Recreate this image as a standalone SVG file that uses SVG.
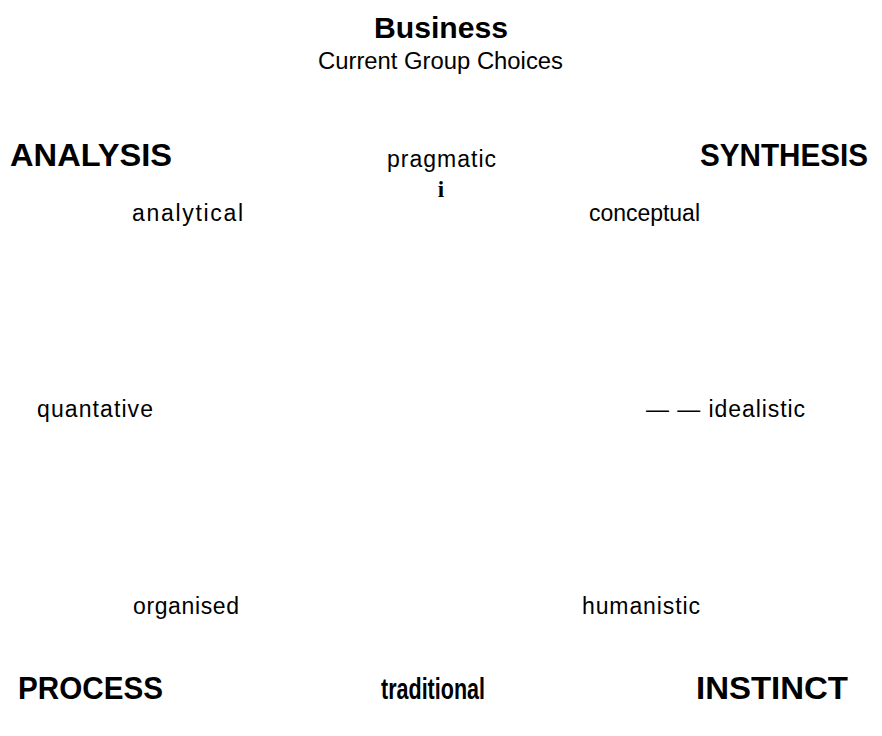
<svg xmlns="http://www.w3.org/2000/svg" width="882" height="736" viewBox="0 0 882 736">
<style>
text{font-family:"Liberation Sans",Arial,sans-serif;fill:#000}
.t{font-size:30px;font-weight:bold}
.h{font-size:31px;font-weight:bold}
.l{font-size:23px}
</style>
<rect width="882" height="736" fill="#fff"/>
<g id="title">
<text class="t" x="374" y="38" textLength="134" lengthAdjust="spacingAndGlyphs">Business</text>
<text x="318" y="69" font-size="23" textLength="245" lengthAdjust="spacingAndGlyphs">Current Group Choices</text>
</g>
<g id="analysis"><text class="h" x="10" y="166" textLength="162" lengthAdjust="spacingAndGlyphs">ANALYSIS</text></g>
<g id="pragmatic"><text class="l" x="387" y="167" textLength="109" lengthAdjust="spacing">pragmatic</text></g>
<g id="synthesis"><text class="h" x="700" y="166" textLength="168" lengthAdjust="spacingAndGlyphs">SYNTHESIS</text></g>
<g id="i"><text x="441" y="197" font-size="23" font-weight="bold" text-anchor="middle" style="font-family:'Liberation Serif',serif">i</text></g>
<g id="analytical"><text class="l" x="132" y="221" textLength="111" lengthAdjust="spacing">analytical</text></g>
<g id="conceptual"><text class="l" x="589" y="221" textLength="111" lengthAdjust="spacing">conceptual</text></g>
<g id="quantative"><text class="l" x="37" y="417" textLength="116" lengthAdjust="spacing">quantative</text></g>
<g id="idealistic"><text class="l" x="646" y="417" textLength="159" lengthAdjust="spacing">— — idealistic</text></g>
<g id="organised"><text class="l" x="133" y="614" textLength="106" lengthAdjust="spacing">organised</text></g>
<g id="humanistic"><text class="l" x="582" y="614" textLength="118" lengthAdjust="spacing">humanistic</text></g>
<g id="process"><text class="h" x="18" y="699" textLength="145" lengthAdjust="spacingAndGlyphs">PROCESS</text></g>
<g id="traditional"><text x="381" y="699" font-size="30" font-weight="bold" textLength="104" lengthAdjust="spacingAndGlyphs">traditional</text></g>
<g id="instinct"><text class="h" x="696" y="699" textLength="152" lengthAdjust="spacingAndGlyphs">INSTINCT</text></g>
</svg>
